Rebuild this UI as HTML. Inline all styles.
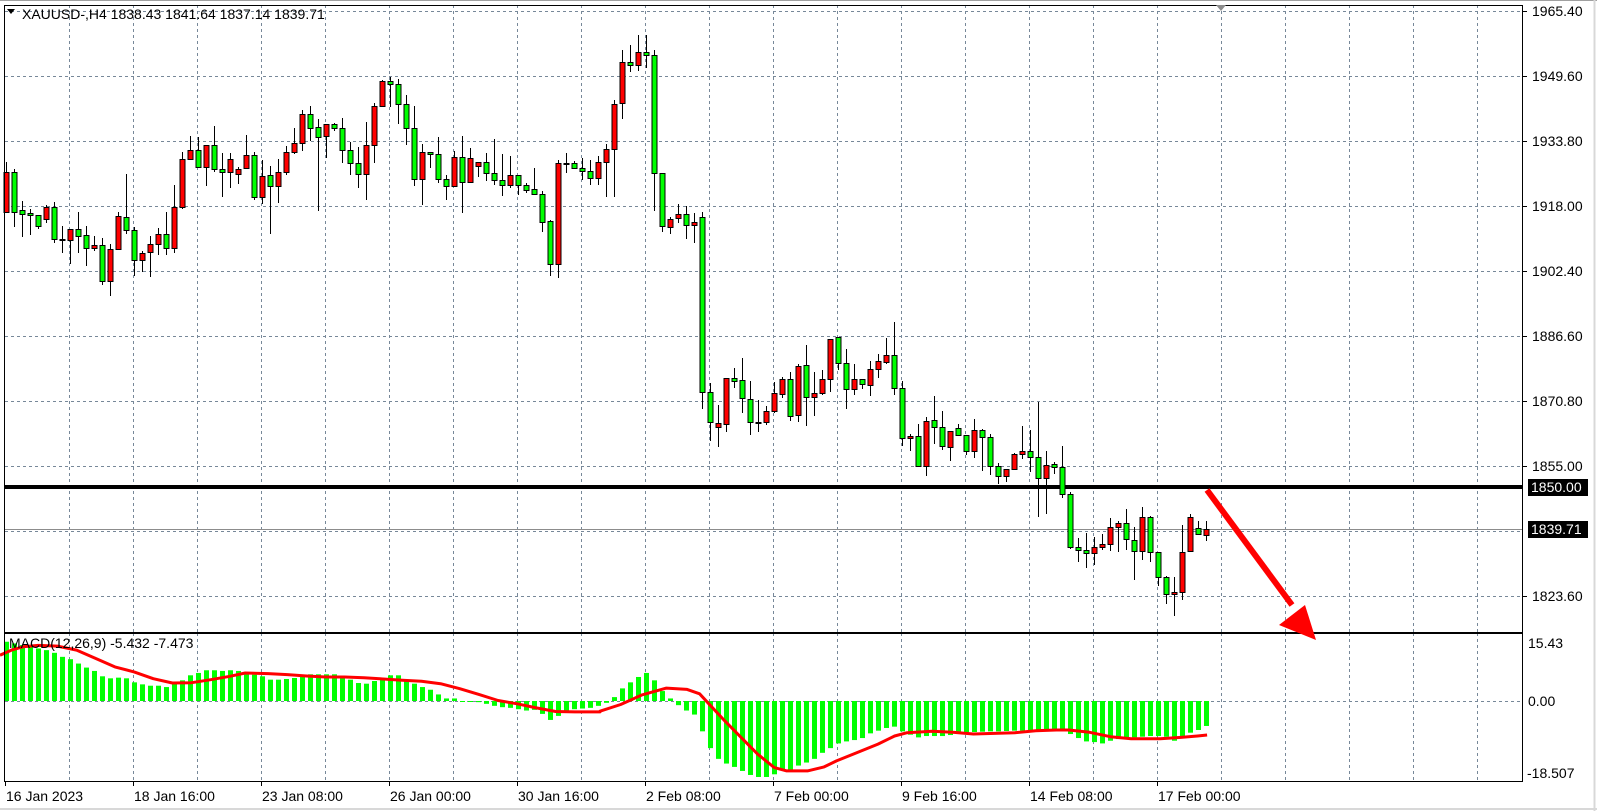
<!DOCTYPE html>
<html><head><meta charset="utf-8"><style>
html,body{margin:0;padding:0;background:#fff;}
svg{display:block;}
text{font-family:"Liberation Sans",sans-serif;font-size:14px;fill:#000;}
</style></head><body>
<svg id="s" width="1597" height="811" xmlns="http://www.w3.org/2000/svg"></svg>
<script>
const C=[
[172,212,162,213,'r'],[172,212,169,227,'g'],[210,214,201,237,'g'],[213,215,209,235,'g'],[215,226,215,229,'g'],
[207,219,205,223,'r'],[207,239,202,243,'g'],[239,240,226,253,'g'],[229,240,229,264,'r'],[229,236,212,253,'g'],
[235,248,226,266,'g'],[245,248,236,251,'r'],[245,281,238,285,'g'],[249,281,244,296,'r'],[216,249,212,249,'r'],
[217,230,174,234,'g'],[230,260,227,276,'g'],[253,260,251,272,'r'],[244,252,236,277,'r'],[234,244,228,255,'r'],
[234,248,212,255,'g'],[207,248,185,253,'r'],[159,207,152,209,'r'],[150,159,136,160,'r'],[150,167,137,168,'g'],
[145,167,145,186,'r'],[145,169,126,172,'g'],[169,172,153,197,'g'],[159,172,153,188,'r'],[169,174,167,184,'r'],
[155,168,135,168,'r'],[155,197,152,200,'g'],[176,197,160,204,'r'],[175,186,166,234,'g'],[172,186,159,203,'r'],
[152,172,146,175,'r'],[143,152,128,154,'r'],[114,143,110,151,'r'],[114,128,106,141,'g'],[127,137,119,211,'g'],
[124,136,124,158,'r'],[124,128,123,131,'g'],[128,150,118,163,'g'],[150,163,142,175,'g'],[163,174,147,188,'g'],
[145,174,122,200,'r'],[106,145,103,163,'r'],[81,106,80,106,'r'],[81,84,77,107,'g'],[84,104,79,124,'g'],
[104,128,95,145,'g'],[128,179,106,186,'g'],[152,179,144,205,'r'],[152,154,152,168,'g'],[154,179,137,183,'g'],
[179,186,175,200,'g'],[157,186,151,186,'r'],[157,182,136,213,'g'],[158,182,148,183,'r'],[162,166,162,177,'r'],
[162,173,153,181,'g'],[173,180,139,185,'g'],[180,185,154,196,'g'],[175,185,156,188,'r'],[175,185,175,195,'g'],
[185,190,183,193,'g'],[189,194,168,195,'g'],[194,222,191,232,'g'],[221,264,220,276,'g'],[163,264,160,278,'r'],
[163,164,153,173,'g'],[163,168,161,169,'g'],[168,171,158,180,'g'],[171,178,160,185,'g'],[162,178,156,185,'r'],
[149,162,144,197,'r'],[104,149,100,197,'r'],[62,103,50,119,'r'],[62,65,45,72,'g'],[52,65,35,71,'r'],
[52,55,35,68,'g'],[55,173,50,211,'g'],[173,226,173,232,'g'],[219,227,217,234,'r'],[214,218,204,223,'r'],
[214,225,206,239,'g'],[222,225,213,243,'r'],[217,392,212,409,'g'],[392,422,383,441,'g'],[423,427,405,447,'r'],
[378,424,378,432,'r'],[378,381,368,388,'g'],[380,398,358,413,'g'],[399,422,381,435,'g'],[422,423,400,432,'g'],
[411,422,406,425,'r'],[393,411,382,413,'r'],[379,394,377,398,'r'],[379,416,372,421,'g'],[366,415,364,422,'r'],
[365,397,345,426,'g'],[393,397,372,416,'r'],[379,393,370,395,'r'],[339,379,339,392,'r'],[337,363,337,370,'g'],
[363,389,349,409,'g'],[379,389,364,395,'r'],[379,384,379,389,'g'],[369,385,361,396,'r'],[361,369,354,378,'r'],
[355,362,338,364,'r'],[355,388,322,395,'g'],[388,438,381,446,'g'],[436,438,434,451,'r'],[436,466,424,466,'g'],
[421,466,417,476,'r'],[420,427,396,444,'g'],[427,446,411,450,'g'],[431,447,431,461,'r'],[428,435,424,435,'g'],
[435,451,435,455,'g'],[430,451,419,458,'r'],[430,437,429,471,'g'],[437,466,434,475,'g'],[466,476,463,484,'g'],
[469,476,469,482,'r'],[454,469,453,470,'r'],[451,454,426,459,'r'],[451,457,430,472,'g'],[457,478,402,517,'g'],
[465,478,451,514,'r'],[464,467,462,474,'g'],[467,494,446,498,'g'],[494,547,492,549,'g'],[547,550,538,562,'g'],
[550,553,533,568,'g'],[547,553,537,565,'r'],[544,547,534,550,'r'],[527,544,518,551,'r'],[523,527,521,552,'r'],
[523,539,509,550,'g'],[540,551,527,580,'g'],[517,551,507,560,'r'],[517,552,516,562,'g'],[552,577,552,586,'g'],
[577,594,576,604,'g'],[592,594,577,616,'r'],[552,592,525,600,'r'],[517,551,514,552,'r'],[528,534,521,535,'g'],
[529,535,521,541,'r']];
const H=[35,40,45,50,55,60,68,80,87,100,112,122,138,144,142,144,156,162,166,166,170,160,150,135,128,120,120,122,120,122,127,133,138,148,148,146,143,140,132,132,132,132,140,148,158,160,152,146,135,135,148,160,170,178,192,204,204,212,214,215,220,226,230,232,236,240,238,250,268,256,240,236,234,232,226,217,200,174,156,140,128,150,182,204,224,240,252,302,352,384,398,408,420,432,438,438,430,418,416,404,395,384,366,352,338,332,328,322,308,300,292,288,302,312,320,316,316,316,313,306,305,304,303,302,302,301,300,300,300,300,298,298,302,310,322,332,334,338,330,325,322,320,318,316,316,318,330,318,306,298,286];
let o='';
o+='<line x1="0" y1="0.5" x2="1597" y2="0.5" stroke="#a0a0a0"/>';
o+='<line x1="1594.5" y1="0" x2="1594.5" y2="811" stroke="#d8d8d8" stroke-width="2"/>';
o+='<line x1="0" y1="809" x2="1597" y2="809" stroke="#d8d8d8" stroke-width="2"/>';
for(let k=0;k<10;k++){let y=11+65*k;o+=`<line x1="5" y1="${y+.5}" x2="1523" y2="${y+.5}" stroke="#778899" stroke-dasharray="3,3"/>`;}
for(let k=0;k<23;k++){let x=69+64*k;o+=`<line x1="${x+.5}" y1="5" x2="${x+.5}" y2="632" stroke="#778899" stroke-dasharray="3,3"/>`;
o+=`<line x1="${x+.5}" y1="633" x2="${x+.5}" y2="782" stroke="#778899" stroke-dasharray="3,3"/>`;}
o+='<line x1="5" y1="701.5" x2="1523" y2="701.5" stroke="#778899" stroke-dasharray="3,3"/>';
o+='<line x1="5" y1="529.5" x2="1523" y2="529.5" stroke="#8c8c8c"/>';
o+='<rect x="5" y="485" width="1518" height="4" fill="#000"/>';
C.forEach((c,i)=>{let x=6+8*i;let col=c[4]=='r'?'#ff0000':'#00ff00';
o+=`<line x1="${x+.5}" y1="${c[2]}" x2="${x+.5}" y2="${c[3]}" stroke="#000"/>`;
let h=Math.max(c[1]-c[0],1);
o+=`<rect x="${x-2}" y="${c[0]+.5}" width="5" height="${h}" fill="${col}" stroke="#000"/>`;});
H.forEach((Y,i)=>{let x=6+8*i;let y=630+Y/2.98;let top=Math.min(y,701),bot=Math.max(y,701);
o+=`<rect x="${x-2}" y="${top}" width="5" height="${Math.max(bot-top,1)}" fill="#00ff00"/>`;});
const s1=[[0,75],[30,60],[60,50],[100,46],[150,48],[200,60],[250,85],[300,110],[350,125],[400,145],[450,158],[500,157],[550,148],[600,138],[640,128],[700,130],[750,133],[800,137],[850,140],[900,140],[950,142],[1000,146],[1050,150],[1100,153],[1150,160],[1200,175],[1250,192],[1300,210],[1350,220],[1400,232],[1450,243],[1500,244],[1566,244]].map(p=>[p[0]/2.61,630+p[1]/2.98]);
const s2=[[0,242],[50,222],[100,194],[160,173],[210,177],[240,190],[270,230],[300,270],[340,320],[380,370],[420,410],[450,420],[500,420],[540,408],[570,390],[620,365],[670,340],[710,316],[740,306],[800,302],[850,305],[900,310],[950,308],[1000,306],[1050,300],[1100,298],[1130,298],[1180,305],[1230,318],[1280,324],[1350,324],[1400,320],[1440,316],[1463,313]].map(p=>[600+p[0]/2.41,630+p[1]/2.98]);
o+=`<polyline points="${s1.concat(s2).map(p=>p[0].toFixed(1)+','+p[1].toFixed(1)).join(' ')}" fill="none" stroke="#ff0000" stroke-width="3" stroke-linejoin="round"/>`;
o+='<rect x="4.5" y="5.5" width="1518" height="627" fill="none" stroke="#000"/>';
o+='<rect x="4.5" y="633.5" width="1518" height="148" fill="none" stroke="#000"/>';
const P=['1965.40','1949.60','1933.80','1918.00','1902.40','1886.60','1870.80','1855.00','','1823.60'];
P.forEach((t,k)=>{if(!t)return;let y=11+65*k;o+=`<line x1="1523" y1="${y+.5}" x2="1527" y2="${y+.5}" stroke="#000"/><text x="1532" y="${y+5}">${t}</text>`;});
o+='<rect x="1528" y="479" width="60" height="17" fill="#000"/><text x="1531" y="492" style="fill:#fff">1850.00</text>';
o+='<rect x="1528" y="521" width="60" height="17" fill="#000"/><text x="1531" y="534" style="fill:#fff">1839.71</text>';
o+='<text x="1528" y="648">15.43</text><text x="1528" y="706">0.00</text><text x="1527" y="778">-18.507</text>';
const T=['16 Jan 2023','18 Jan 16:00','23 Jan 08:00','26 Jan 00:00','30 Jan 16:00','2 Feb 08:00','7 Feb 00:00','9 Feb 16:00','14 Feb 08:00','17 Feb 00:00'];
T.forEach((t,k)=>{let x=5+128*k;o+=`<line x1="${x+.5}" y1="782" x2="${x+.5}" y2="786" stroke="#000"/><text x="${k==0?6:x+1}" y="801">${t}</text>`;});
o+='<polygon points="7,9 15,9 11,14" fill="#000"/><text x="22" y="19">XAUUSD-,H4  1838.43 1841.64 1837.14 1839.71</text>';
o+='<text x="9" y="648">MACD(12,26,9) -5.432 -7.473</text>';
o+='<polygon points="1216,5 1226,5 1221,11" fill="#8c8c8c"/>';
o+='<line x1="1207" y1="490" x2="1292" y2="605" stroke="#ff0000" stroke-width="6"/>';
o+='<polygon points="1279,625 1305,605 1316,640" fill="#ff0000"/>';
document.getElementById('s').innerHTML=o;
</script>
</body></html>
